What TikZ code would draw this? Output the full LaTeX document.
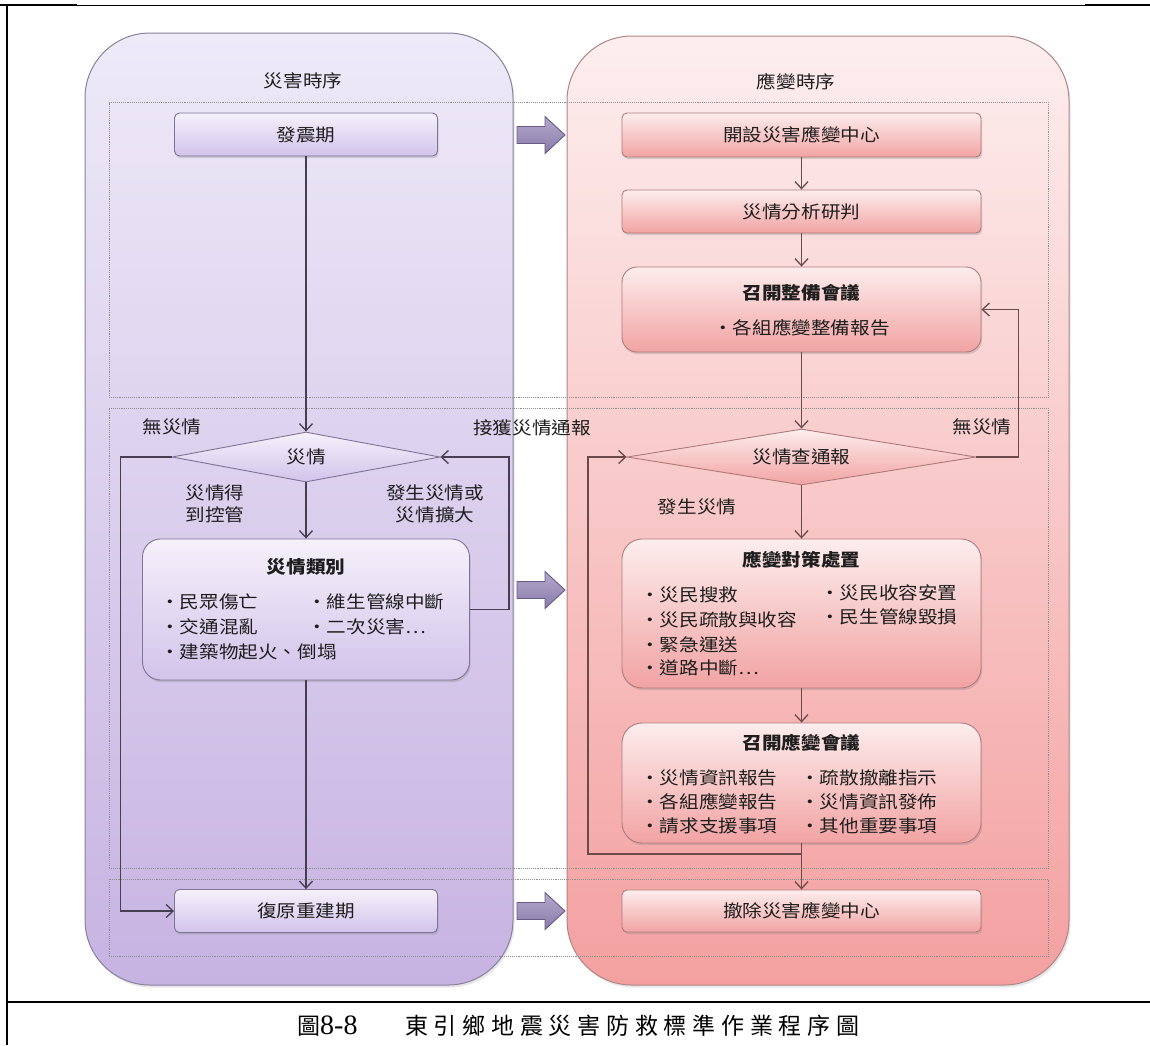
\documentclass[tikz,border=0pt]{standalone}
\usepackage{fontspec}
\setmainfont{Liberation Serif}
\newfontfamily\cjk{Noto Sans CJK TC}[FakeStretch=1.12]
\newfontfamily\capcjk{Noto Sans CJK TC}[LetterSpace=25]
\usetikzlibrary{arrows.meta,shapes.geometric,shadows}
\newcommand{\myfont}{\cjk\fontsize{17.5}{22}\selectfont}
\newcommand{\myfontb}{\cjk\fontsize{17.5}{22}\selectfont\bfseries}
\definecolor{txtc}{HTML}{1E1E1E}
\definecolor{bLt}{HTML}{EEEAF8}
\definecolor{bLb}{HTML}{C7B3E2}
\definecolor{bLd}{HTML}{8A809E}
\definecolor{bRt}{HTML}{FDEEEE}
\definecolor{bRb}{HTML}{F4A0A0}
\definecolor{bRd}{HTML}{B08585}
\definecolor{lbt}{HTML}{F5F1FB}
\definecolor{lbb}{HTML}{D2C3EA}
\definecolor{lbd}{HTML}{7E7496}
\definecolor{rbt}{HTML}{FDEDED}
\definecolor{rbb}{HTML}{F2A3A3}
\definecolor{rbd}{HTML}{B07A7A}
\definecolor{phc}{HTML}{8E8E8E}
\definecolor{lcc}{HTML}{463F52}
\definecolor{rcc}{HTML}{6B4A4A}
\definecolor{arrt}{HTML}{B3A8CC}
\definecolor{arrb}{HTML}{8A7BAA}
\definecolor{arrd}{HTML}{675A85}
\tikzset{
  txt/.style={inner sep=0pt, font=\myfont, text=txtc},
  ttl/.style={inner sep=0pt, font=\myfontb, text=txtc},
  bigL/.style={draw=bLd, line width=1pt, top color=bLt, bottom color=bLb, rounded corners=65pt,
    minimum width=428pt, minimum height=952pt, inner sep=0pt,
    drop shadow={opacity=0.2, shadow xshift=1.5pt, shadow yshift=-2.5pt}},
  bigR/.style={draw=bRd, line width=1pt, top color=bRt, bottom color=bRb, rounded corners=65pt,
    minimum width=502pt, minimum height=949pt, inner sep=0pt,
    drop shadow={opacity=0.2, shadow xshift=1.5pt, shadow yshift=-2.5pt}},
  lbox/.style={draw=lbd, line width=0.9pt, top color=lbt, bottom color=lbb, rounded corners=5pt,
    minimum width=263pt, minimum height=43pt, inner sep=0pt, font=\myfont, text=txtc,
    drop shadow={opacity=0.28, shadow xshift=1.2pt, shadow yshift=-2.2pt}},
  rbox/.style={draw=rbd, line width=0.9pt, top color=rbt, bottom color=rbb, rounded corners=5pt,
    minimum width=359pt, minimum height=43pt, inner sep=0pt, font=\myfont, text=txtc,
    drop shadow={opacity=0.28, shadow xshift=1.2pt, shadow yshift=-2.2pt}},
  ldia/.style={diamond, aspect=5.4, draw=lbd, line width=0.9pt, top color=lbt, bottom color=lbb,
    minimum width=268pt, minimum height=50pt, inner sep=0pt, font=\myfont, text=txtc},
  rdia/.style={diamond, aspect=6.2, draw=rbd, line width=0.9pt, top color=rbt, bottom color=rbb,
    minimum width=349pt, minimum height=56pt, inner sep=0pt, font=\myfont, text=txtc},
  phase/.style={draw=phc, densely dotted, line width=0.9pt, minimum width=939pt, inner sep=0pt},
  lconn/.style={draw=lcc, line width=1.3pt, -{Straight Barb[length=7pt,width=13pt]}},
  rconn/.style={draw=rcc, line width=1.3pt, -{Straight Barb[length=7pt,width=13pt]}},
  bigarr/.pic={\path[draw=arrd, line width=0.9pt, top color=arrt, bottom color=arrb]
    (-24,-8.5) -- (4,-8.5) -- (4,-18.5) -- (24,0) -- (4,18.5) -- (4,8.5) -- (-24,8.5) -- cycle;}
}
\begin{document}
\begin{tikzpicture}[x=1pt,y=-1pt]
\useasboundingbox (0,0) rectangle (1150,1045);
% page frame
\draw[line width=2.2pt] (0,5) -- (77,5);
\draw[line width=0.8pt] (77,5) -- (1085,5);
\draw[line width=2.2pt] (1085,5) -- (1150,5);
\draw[line width=1.5pt] (7,4) -- (7,1045);
\draw[line width=2.4pt] (6,1002) -- (1150,1002);
% columns
\node[bigL] (colL) at (299,509) {};
\node[bigR] (colR) at (818,510.5) {};
% phases
\node[phase, minimum height=295pt] (p1) at (578.5,249.5) {};
\node[phase, minimum height=460pt] (p2) at (578.5,638) {};
\node[phase, minimum height=77pt] (p3) at (578.5,917.5) {};
% headers
\node[txt] (hL) at (303,81) {災害時序};
\node[txt] (hR) at (796,82) {應變時序};
% big arrows
\pic at (541,135) {bigarr};
\pic at (541,590) {bigarr};
\pic at (541,911) {bigarr};
% left column
\node[lbox] (quake) at (306,134.5) {發震期};
\node[ldia] (dL) at (306,457) {災情};
\node[lbox, minimum width=327pt, minimum height=141pt, rounded corners=18pt] (cat) at (306,609.5) {};
\node[ttl] (catT) at (306,567) {災情類別};
\node[txt, anchor=west] (c1) at (160,602) {・民眾傷亡};
\node[txt, anchor=west] (c2) at (160,627) {・交通混亂};
\node[txt, anchor=west] (c3) at (160,652) {・建築物起火、倒塌};
\node[txt, anchor=west] (c4) at (307,602) {・維生管線中斷};
\node[txt, anchor=west] (c5) at (307,627) {・二次災害…};
\node[lbox] (rebuild) at (306,911) {復原重建期};
% right column
\node[rbox, minimum height=44pt] (open) at (801.5,135) {開設災害應變中心};
\node[rbox] (anal) at (801.5,211.5) {災情分析研判};
\node[rbox, minimum height=85pt, rounded corners=15pt] (prep) at (801.5,309.5) {};
\node[ttl] (prepT) at (801.5,293) {召開整備會議};
\node[txt] (prep1) at (801.5,328) {・各組應變整備報告};
\node[rdia] (dR) at (801.5,457) {災情查通報};
\node[rbox, minimum height=149pt, rounded corners=20pt] (resp) at (801.5,613.5) {};
\node[ttl] (respT) at (801.5,560) {應變對策處置};
\node[txt, anchor=west] (r1) at (640,595) {・災民搜救};
\node[txt, anchor=west] (r2) at (640,620) {・災民疏散與收容};
\node[txt, anchor=west] (r3) at (640,645) {・緊急運送};
\node[txt, anchor=west] (r4) at (640,668) {・道路中斷…};
\node[txt, anchor=west] (r5) at (820,593) {・災民收容安置};
\node[txt, anchor=west] (r6) at (820,617) {・民生管線毀損};
\node[rbox, minimum height=120pt, rounded corners=20pt] (meet) at (801.5,783) {};
\node[ttl] (meetT) at (801.5,743) {召開應變會議};
\node[txt, anchor=west] (m1) at (640,778) {・災情資訊報告};
\node[txt, anchor=west] (m2) at (640,802) {・各組應變報告};
\node[txt, anchor=west] (m3) at (640,826) {・請求支援事項};
\node[txt, anchor=west] (m4) at (800,778) {・疏散撤離指示};
\node[txt, anchor=west] (m5) at (800,802) {・災情資訊發佈};
\node[txt, anchor=west] (m6) at (800,826) {・其他重要事項};
\node[rbox, minimum height=42pt] (close) at (801.5,911) {撤除災害應變中心};
% labels
\node[txt] (lNo) at (172,427) {無災情};
\node[txt, align=center] (lCtl) at (215,504) {災情得\\到控管};
\node[txt, align=center] (lGrow) at (435,504) {發生災情或\\災情擴大};
\node[txt] (lRecv) at (532,428) {接獲災情通報};
\node[txt] (rNo) at (982,427) {無災情};
\node[txt] (rYes) at (697,507) {發生災情};
% left connectors
\draw[lconn] (quake) -- (dL);
\draw[lconn] (dL) -- (cat);
\draw[lconn] (cat) -- (rebuild);
\draw[lconn] (cat.east) -- ++(39,0) |- (dL.east);
\draw[lconn] (dL.west) -- ++(-51,0) |- (rebuild.west);
% right connectors
\draw[rconn] (open) -- (anal);
\draw[rconn] (anal) -- (prep);
\draw[rconn] (prep) -- (dR);
\draw[rconn] (dR) -- (resp);
\draw[rconn] (resp) -- (meet);
\draw[rconn] (meet) -- (close);
\draw[rconn] (dR.east) -- ++(42,0) |- (prep.east);
\coordinate (lp) at (801.5,854);
\draw[rconn] (lp) -- ++(-213.5,0) |- (dR.west);
% caption
\node[anchor=west, inner sep=0pt, font=\capcjk\fontsize{23}{26}\selectfont, text=black] (capfig) at (297,1026) {圖{\rmfamily\fontsize{28}{30}\selectfont 8-8}};
\node[anchor=west, inner sep=0pt, font=\capcjk\fontsize{23}{26}\selectfont, text=black] (captxt) at (405,1026) {東引鄉地震災害防救標準作業程序圖};
\end{tikzpicture}
\end{document}
